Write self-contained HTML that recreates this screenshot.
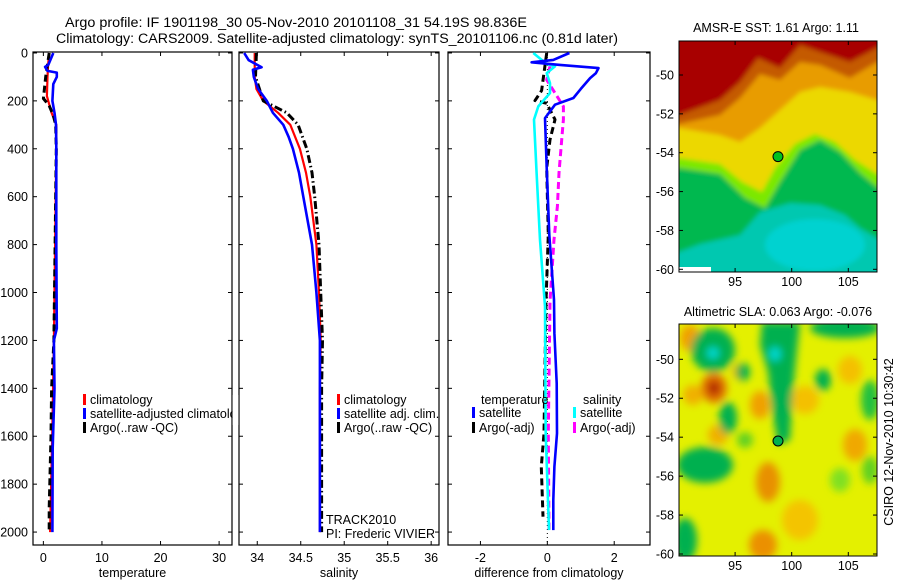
<!DOCTYPE html>
<html><head><meta charset="utf-8"><style>
html,body{margin:0;padding:0;background:#fff}
svg{display:block;font-family:"Liberation Sans",sans-serif}
</style></head><body>
<svg id="fig" width="900" height="580" viewBox="0 0 900 580" xmlns="http://www.w3.org/2000/svg">
<defs>
<filter id="blur3" x="-5%" y="-5%" width="110%" height="110%"><feGaussianBlur stdDeviation="2.5"/></filter>
<filter id="blur4" x="-20%" y="-20%" width="140%" height="140%"><feGaussianBlur stdDeviation="4"/></filter>
<clipPath id="clipMap1"><rect x="679" y="41" width="198" height="231"/></clipPath>
<clipPath id="clipMap2"><rect x="679" y="324" width="198" height="232"/></clipPath>
</defs>
<text x="296" y="27" text-anchor="middle" font-size="13.5" textLength="462" lengthAdjust="spacingAndGlyphs">Argo profile: IF 1901198_30 05-Nov-2010 20101108_31 54.19S 98.836E</text>
<text x="337" y="43" text-anchor="middle" font-size="13.5" textLength="562" lengthAdjust="spacingAndGlyphs">Climatology: CARS2009. Satellite-adjusted climatology: synTS_20101106.nc (0.81d later)</text>

<!-- SST map -->
<g clip-path="url(#clipMap1)">
<g filter="url(#blur3)">
<rect x="670" y="30" width="220" height="250" fill="#00c8b0"/>
<path d="M670,30 L890,30 L890,240 L877,238 L860,228 L845,215 L820,205 L790,203 L760,212 L740,235 L700,244 L679,252 L670,254 Z" fill="#00b850"/>
<ellipse cx="815" cy="245" rx="50" ry="26" fill="#00d2d0"/>
<path d="M670,30 L890,30 L890,190 L877,187 L860,173 L840,152 L820,140 L800,150 L780,182 L765,208 L745,198 L720,174 L679,168 L670,168 Z" fill="#7ce800"/>
<path d="M670,30 L890,30 L890,178 L877,174 L855,160 L835,142 L815,134 L795,144 L775,168 L762,192 L742,182 L720,164 L679,158 L670,158 Z" fill="#ecd800"/>
<path d="M670,30 L890,30 L890,102 L877,100 L850,92 L820,87 L800,92 L780,110 L760,128 L740,142 L720,135 L679,128 L670,128 Z" fill="#e89c00"/>
<path d="M670,30 L890,30 L890,62 L877,62 L850,78 L820,65 L800,62 L780,80 L760,74 L740,98 L720,115 L679,124 L670,124 Z" fill="#c45a00"/>
<path d="M670,30 L890,30 L890,48 L877,48 L850,62 L820,52 L800,45 L780,68 L758,58 L740,82 L720,100 L679,115 L670,115 Z" fill="#a80000"/>
</g>
<rect x="679" y="267" width="32" height="5" fill="#fff"/>
</g>
<rect x="679" y="41" width="198" height="231" fill="none" stroke="#000" stroke-width="1"/>
<circle cx="778" cy="156.6" r="5" fill="#00c020" stroke="#000" stroke-width="1"/>
<text x="776" y="32" text-anchor="middle" font-size="12.5">AMSR-E SST: 1.61 Argo: 1.11</text>

<!-- SLA map -->
<g clip-path="url(#clipMap2)">
<rect x="679" y="324" width="198" height="232" fill="#e4f000"/>
<g filter="url(#blur4)">
<ellipse cx="690" cy="338" rx="10" ry="13" fill="#f0a000"/>
<ellipse cx="714" cy="388" rx="13" ry="15" fill="#e07000"/>
<ellipse cx="714" cy="388" rx="6" ry="7" fill="#b02000"/>
<ellipse cx="693" cy="395" rx="10" ry="10" fill="#f0b000"/>
<ellipse cx="760" cy="405" rx="10" ry="14" fill="#f0a000"/>
<ellipse cx="718" cy="435" rx="10" ry="10" fill="#f0b000"/>
<ellipse cx="768" cy="482" rx="12" ry="20" fill="#e89000"/>
<ellipse cx="763" cy="545" rx="14" ry="15" fill="#eb9000"/>
<ellipse cx="855" cy="445" rx="12" ry="16" fill="#f0a800"/>
<ellipse cx="805" cy="400" rx="14" ry="14" fill="#f4c000"/>
<ellipse cx="850" cy="370" rx="12" ry="14" fill="#f4c000"/>
<ellipse cx="740" cy="372" rx="8" ry="8" fill="#f0b800"/>
<ellipse cx="800" cy="520" rx="18" ry="20" fill="#f4c400"/>
<path d="M762,322 L800,322 L796,360 L792,400 L790,440 L778,445 L772,410 L768,372 L760,345 Z" fill="#00b050"/>
<ellipse cx="713" cy="350" rx="22" ry="22" fill="#00b050"/>
<ellipse cx="713" cy="353" rx="6" ry="6" fill="#00d8d0"/>
<ellipse cx="775" cy="354" rx="6" ry="7" fill="#00d8d0"/>
<ellipse cx="743" cy="372" rx="7" ry="9" fill="#00b050"/>
<ellipse cx="728" cy="418" rx="9" ry="16" fill="#00b050"/>
<ellipse cx="705" cy="465" rx="28" ry="18" fill="#00b050"/>
<ellipse cx="685" cy="540" rx="12" ry="22" fill="#00b050"/>
<ellipse cx="845" cy="328" rx="35" ry="10" fill="#00b050"/>
<ellipse cx="823" cy="380" rx="8" ry="11" fill="#00b050"/>
<ellipse cx="870" cy="400" rx="9" ry="20" fill="#20c040"/>
<ellipse cx="745" cy="440" rx="8" ry="8" fill="#60d020"/>
<ellipse cx="840" cy="480" rx="10" ry="12" fill="#80e020"/>
<ellipse cx="870" cy="470" rx="8" ry="14" fill="#60d020"/>
</g>
</g>
<rect x="679" y="324" width="198" height="232" fill="none" stroke="#000" stroke-width="1"/>
<circle cx="778" cy="441" r="5" fill="#00b050" stroke="#000" stroke-width="1"/>
<text x="778" y="316" text-anchor="middle" font-size="12.5">Altimetric SLA: 0.063 Argo: -0.076</text>
<text transform="translate(893,442) rotate(-90)" text-anchor="middle" font-size="12.5">CSIRO 12-Nov-2010 10:30:42</text>

<g id="plots"></g>
</svg>
<script>
// ---------- data ----------
const tempDepth = [0, 50, 100, 180, 250, 300, 400, 800, 1200, 1600, 2000];
const tempClim  = [1.0, 0.8, 0.7, 0.6, 1.4, 2.2, 2.2, 2.0, 1.8, 1.5, 1.15];
const tempSatDepth = [0, 50, 58, 75, 82, 100, 130, 200, 250, 300, 400, 800, 1150, 1200, 1400, 1650, 2000];
const tempSat = [1.7, 0.85, 0.3, 0.7, 2.3, 2.3, 1.7, 1.55, 1.9, 2.15, 2.2, 2.2, 2.3, 1.8, 1.9, 1.6, 1.55];
const tempArgoDepth = [0, 100, 190, 220, 260, 300, 400, 800, 1200, 1400, 1600, 1900, 2000];
const tempArgo = [1.0, 0.4, 0.0, 1.0, 1.7, 2.1, 2.2, 2.0, 1.8, 1.4, 1.3, 1.0, 1.0];

const salDepth = [0, 100, 150, 200, 250, 300, 400, 500, 600, 800, 1000, 1200, 1400, 2000];
const salClim = [33.97, 33.97, 33.99, 34.07, 34.24, 34.38, 34.49, 34.56, 34.61, 34.68, 34.71, 34.73, 34.72, 34.72];
const salSatDepth = [0, 30, 60, 70, 100, 150, 200, 250, 300, 350, 400, 500, 600, 800, 1000, 1200, 1500, 2000];
const salSat = [33.85, 33.9, 34.05, 33.95, 33.96, 34.01, 34.11, 34.18, 34.3, 34.36, 34.41, 34.48, 34.53, 34.63, 34.68, 34.72, 34.72, 34.72];
const salArgoDepth = [0, 100, 200, 220, 250, 300, 400, 500, 600, 800, 1000, 1200, 1400, 2000];
const salArgo = [33.99, 33.98, 34.07, 34.18, 34.34, 34.47, 34.57, 34.63, 34.66, 34.71, 34.73, 34.75, 34.74, 34.74];

const dTempSatDepth = [0, 29, 39, 50, 63, 85, 105, 150, 188, 216, 272, 480, 759, 1031, 1170, 1379, 1588, 1727, 1866, 1992];
const dTempSat = [0.66, 0.18, -0.47, 0.38, 1.53, 1.45, 1.28, 1.0, 0.78, 0.23, -0.07, -0.02, 0.06, 0.2, 0.21, 0.28, 0.29, 0.21, 0.18, 0.18];
const dSalSatDepth = [0, 46, 56, 84, 126, 167, 223, 278, 501, 780, 1058, 1588, 1992];
const dSalSat = [-0.42, -0.02, 0.23, -0.02, 0.08, 0.08, -0.27, -0.4, -0.32, -0.22, -0.07, -0.05, 0.05];
const dTempArgoDepth = [0, 157, 199, 210, 278, 362, 480, 759, 1037, 1588, 1727, 1936];
const dTempArgo = [-0.02, -0.17, -0.37, -0.02, 0.23, 0.08, -0.02, 0.03, -0.04, -0.1, -0.18, -0.13];
const dSalArgoDepth = [56, 112, 223, 278, 362, 501, 640, 780, 1037, 1588, 1992];
const dSalArgo = [0.08, -0.02, 0.48, 0.48, 0.43, 0.35, 0.3, 0.2, 0.08, 0.03, 0.05];

const depthTicks = [0, 200, 400, 600, 800, 1000, 1200, 1400, 1600, 1800, 2000];
const tempTicks = [0, 10, 20, 30];
const salTicks = [34, 34.5, 35, 35.5, 36];
const salTickLabels = ["34", "34.5", "35", "35.5", "36"];
const diffTicks = [-2, 0, 2];
const lonTicks = [95, 100, 105];
const latTicks = [-50, -52, -54, -56, -58, -60];

// ---------- scales ----------
const Y0 = 52, Y1 = 545, D0 = -4, D1 = 2054;
function yDepth(d){ return Y0 + (d - D0) / (D1 - D0) * (Y1 - Y0); }
function lin(d0, d1, r0, r1){ return v => r0 + (v - d0) / (d1 - d0) * (r1 - r0); }
const panels = [
  {name:'temperature', x0:33, x1:232, sx: lin(-1.77, 32.2, 33, 232), ticks: tempTicks, labels: tempTicks.map(String), title:'temperature', yl:true},
  {name:'salinity', x0:239, x1:439, sx: lin(33.79, 36.09, 239, 439), ticks: salTicks, labels: salTickLabels, title:'salinity', yl:false},
  {name:'difference', x0:448, x1:650, sx: lin(-2.97, 3.07, 448, 650), ticks: diffTicks, labels: diffTicks.map(String), title:'difference from climatology', yl:false}
];
const NS = 'http://www.w3.org/2000/svg';
const root = document.getElementById('plots');
function mk(tag, attrs, parent){ const e = document.createElementNS(NS, tag); for (const k in attrs) e.setAttribute(k, attrs[k]); (parent||root).appendChild(e); return e; }

panels.forEach(p => {
  const g = mk('g', {});
  
  
  const fr = mk('rect', {x:p.x0, y:Y0, width:p.x1-p.x0, height:Y1-Y0, fill:'none', stroke:'#000', 'stroke-width':1.2}, g);
  
  
  depthTicks.forEach(d => {
    const y = yDepth(d);
    mk('line', {x1:p.x0, x2:p.x0+4, y1:y, y2:y, stroke:'#000'}, g);
    mk('line', {x1:p.x1, x2:p.x1-4, y1:y, y2:y, stroke:'#000'}, g);
    if (p.yl) {
      const t = mk('text', {x:p.x0-5, y:y+4.5, 'text-anchor':'end', 'font-size':12.5}, g);
      t.textContent = String(d);
      
      
    }
  });
  p.ticks.forEach((v, i) => {
    const x = p.sx(v);
    mk('line', {x1:x, x2:x, y1:Y1, y2:Y1-4, stroke:'#000'}, g);
    mk('line', {x1:x, x2:x, y1:Y0, y2:Y0+4, stroke:'#000'}, g);
    const t = mk('text', {x:x, y:562, 'text-anchor':'middle', 'font-size':12.5}, g);
    t.textContent = p.labels[i];
    
    
  });
  const tt = mk('text', {x:(p.x0+p.x1)/2, y:577, 'text-anchor':'middle', 'font-size':12.5}, g);
  tt.textContent = p.title;
  
  
});

function line(p, xs, ds, color, w, dash, name){
  const pts = xs.map((v, i) => p.sx(v).toFixed(1) + ',' + yDepth(ds[i]).toFixed(1)).join(' ');
  const a = {points:pts, fill:'none', stroke:color, 'stroke-width':w, 'stroke-linejoin':'round'};
  if (dash) a['stroke-dasharray'] = dash;
  const e = mk('polyline', a);
  
  
}
const [P1, P2, P3] = panels;
line(P1, tempClim, tempDepth, '#ff0000', 2.2, null, 'temp-climatology-line');
line(P1, tempArgo, tempArgoDepth, '#000', 3, '7,4', 'temp-argo-line');
line(P1, tempSat, tempSatDepth, '#0000ff', 2.6, null, 'temp-satellite-line');
line(P2, salClim, salDepth, '#ff0000', 2.2, null, 'sal-climatology-line');
line(P2, salArgo, salArgoDepth, '#000', 3, '8,3,1.5,3', 'sal-argo-line');
line(P2, salSat, salSatDepth, '#0000ff', 2.6, null, 'sal-satellite-line');
const z = mk('line', {x1:P3.sx(0), x2:P3.sx(0), y1:yDepth(0), y2:yDepth(2054), stroke:'#000', 'stroke-width':1, 'stroke-dasharray':'1,3'});


line(P3, dTempArgo, dTempArgoDepth, '#000', 3, '7,4', 'diff-temp-argo-line');
line(P3, dSalArgo, dSalArgoDepth, '#ff00ff', 3, '7,4', 'diff-sal-argo-line');
line(P3, dSalSat, dSalSatDepth, '#00ffff', 2.6, null, 'diff-sal-satellite-line');
line(P3, dTempSat, dTempSatDepth, '#0000ff', 2.6, null, 'diff-temp-satellite-line');

function legend(x, y, color, label, name){
  const r = mk('rect', {x:x, y:y-10, width:3, height:11, fill:color});
  
  
  const t = mk('text', {x:x+7, y:y, 'font-size':12.5});
  t.textContent = label;
  
  
}
legend(83, 404, '#ff0000', 'climatology', 'legend-temp-climatology');
legend(83, 418, '#0000ff', 'satellite-adjusted climatolo', 'legend-temp-satellite');
legend(83, 432, '#000', 'Argo(..raw -QC)', 'legend-temp-argo');
legend(337, 404, '#ff0000', 'climatology', 'legend-sal-climatology');
legend(337, 418, '#0000ff', 'satellite adj. clim.', 'legend-sal-satellite');
legend(337, 432, '#000', 'Argo(..raw -QC)', 'legend-sal-argo');
legend(472, 417, '#0000ff', 'satellite', 'legend-diff-temp-satellite');
legend(472, 432, '#000', 'Argo(-adj)', 'legend-diff-temp-argo');
legend(573, 417, '#00ffff', 'satellite', 'legend-diff-sal-satellite');
legend(573, 432, '#ff00ff', 'Argo(-adj)', 'legend-diff-sal-argo');
[[481,404,'temperature','legend-temp-heading'],[583,404,'salinity','legend-sal-heading'],
 [326,524,'TRACK2010','track-label'],[326,538,'PI: Frederic VIVIER','pi-label']].forEach(a => {
  const t = mk('text', {x:a[0], y:a[1], 'font-size':12.5});
  t.textContent = a[2];
  
  
});
mk('rect', {x:232.6, y:395, width:5.8, height:30, fill:'#fff'});

const lonX = lin(100, 105, 791.7, 848.3);
const maps = [{name:'sst', top:41, bot:272, ly: lin(-50, -60, 75, 269.3), lab:286},
              {name:'sla', top:324, bot:556, ly: lin(-50, -60, 359.3, 554), lab:570}];
maps.forEach(m => {
  latTicks.forEach(v => {
    const y = m.ly(v);
    mk('line', {x1:679, x2:683, y1:y, y2:y, stroke:'#000'});
    mk('line', {x1:877, x2:873, y1:y, y2:y, stroke:'#000'});
    const t = mk('text', {x:674, y:y+4.5, 'text-anchor':'end', 'font-size':12.5});
    t.textContent = String(v);
    
    
  });
  lonTicks.forEach(v => {
    const x = lonX(v);
    mk('line', {x1:x, x2:x, y1:m.bot, y2:m.bot-4, stroke:'#000'});
    mk('line', {x1:x, x2:x, y1:m.top, y2:m.top+4, stroke:'#000'});
    const t = mk('text', {x:x, y:m.lab, 'text-anchor':'middle', 'font-size':12.5});
    t.textContent = String(v);
    
    
  });
});
</script>
</body></html>
